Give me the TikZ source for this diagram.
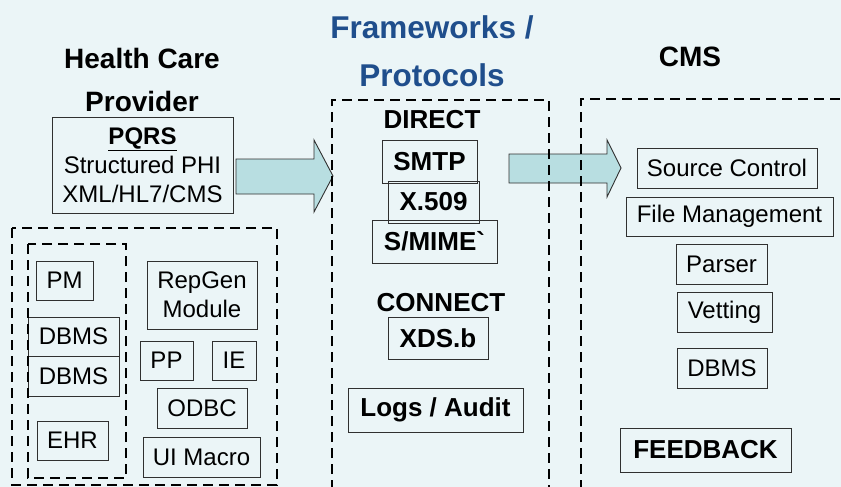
\documentclass[tikz,border=0pt]{standalone}
\usepackage{fontspec}
\setmainfont{Liberation Sans}
\usepackage{xcolor}
\usepackage{tikz}

\definecolor{bgpaper}{HTML}{EBF5F7}
\definecolor{arrowfill}{HTML}{B8DEE1}
\definecolor{titleblue}{HTML}{1F4E8C}
\definecolor{boxline}{HTML}{303030}

\tikzset{
  box/.style={draw=boxline,line width=0.9pt,inner sep=0pt,align=center,
    font=\fontsize{24}{29}\selectfont},
  boldbox/.style={box,font=\fontsize{26}{30}\selectfont\bfseries},
  frame/.style={line width=2.6pt,dash pattern=on 10pt off 6pt},
  fatarrow/.style={draw=boxline,line width=0.9pt,fill=arrowfill},
  heading/.style={align=center,font=\fontsize{28}{43}\selectfont\bfseries},
  label/.style={font=\fontsize{26}{30}\selectfont\bfseries}
}

\begin{document}
\begin{tikzpicture}[x=1pt,y=-1pt]
\fill[bgpaper] (0,0) rectangle (841,487);
\useasboundingbox (0,0) rectangle (841,487);

% health care provider
\node[heading] (hcp) at (142,80) {Health Care\\Provider};
\node[box,minimum width=181pt,minimum height=96pt] (pqrs) at (142.5,165)
  {\textbf{\underline{PQRS}}\\Structured PHI\\XML/HL7/CMS};
\node[box,minimum width=57pt,minimum height=39pt] (pm) at (64.5,280.5) {PM};
\node[box,minimum width=91pt,minimum height=39pt] (dbmsa) at (73.5,336.5) {DBMS};
\node[box,minimum width=91pt,minimum height=40pt] (dbmsb) at (73.5,376) {DBMS};
\node[box,minimum width=71pt,minimum height=39pt] (ehr) at (72.5,440.5) {EHR};
\node[box,minimum width=110pt,minimum height=68pt] (repgen) at (202,295) {RepGen\\Module};
\node[box,minimum width=53pt,minimum height=39pt] (pp) at (166.5,360.5) {PP};
\node[box,minimum width=44pt,minimum height=39pt] (ie) at (234,360.5) {IE};
\node[box,minimum width=90pt,minimum height=40pt] (odbc) at (202,408) {ODBC};
\node[box,minimum width=117pt,minimum height=40pt] (uimacro) at (201.5,457) {UI Macro};
\draw[frame] (12,228) rectangle (277,485);
\draw[frame] (28,244) rectangle (126,478);

% frameworks / protocols
\node[heading,font=\fontsize{31.5}{48}\selectfont\bfseries,text=titleblue] (fwp) at (432,51)
  {Frameworks /\\Protocols};
\node[label] (direct) at (432,120) {DIRECT};
\node[boldbox,minimum width=95pt,minimum height=43pt] (smtp) at (429.5,161.5) {SMTP};
\node[boldbox,minimum width=91pt,minimum height=42pt] (xfive) at (433.5,202) {X.509};
\node[boldbox,minimum width=125pt,minimum height=43pt] (smime) at (434.5,241.5) {S/MIME\textasciigrave};
\node[label] (connect) at (441,303) {CONNECT};
\node[boldbox,minimum width=100pt,minimum height=42pt] (xds) at (438,338) {XDS.b};
\node[boldbox,minimum width=175pt,minimum height=44pt] (logs) at (435.5,410) {Logs / Audit};

% cms
\node[heading] (cms) at (690,57) {CMS};
\node[box,minimum width=180pt,minimum height=40pt] (srcctl) at (727,168) {Source Control};
\node[box,minimum width=207pt,minimum height=39pt] (filemgmt) at (729.5,216.5) {File Management};
\node[box,minimum width=91pt,minimum height=40pt] (parser) at (721.5,264) {Parser};
\node[box,minimum width=95pt,minimum height=40pt] (vetting) at (724.5,312) {Vetting};
\node[box,minimum width=90pt,minimum height=40pt] (dbmsc) at (722,368) {DBMS};
\node[boldbox,minimum width=171pt,minimum height=44pt] (feedback) at (705.5,450) {FEEDBACK};

% big arrows
\draw[fatarrow] (236,159) -- (314,159) -- (314,140) -- (333,176) -- (314,212)
  -- (314,194) -- (236,194) -- cycle;
\draw[fatarrow] (509,154) -- (607,154) -- (607,140) -- (621,168) -- (607,197)
  -- (607,183) -- (509,183) -- cycle;

% open frames
\draw[frame] (332,490) -- (332,100) -- (549,100) -- (549,490);
\draw[frame] (581,490) -- (581,99) -- (845,99);
\end{tikzpicture}
\end{document}
